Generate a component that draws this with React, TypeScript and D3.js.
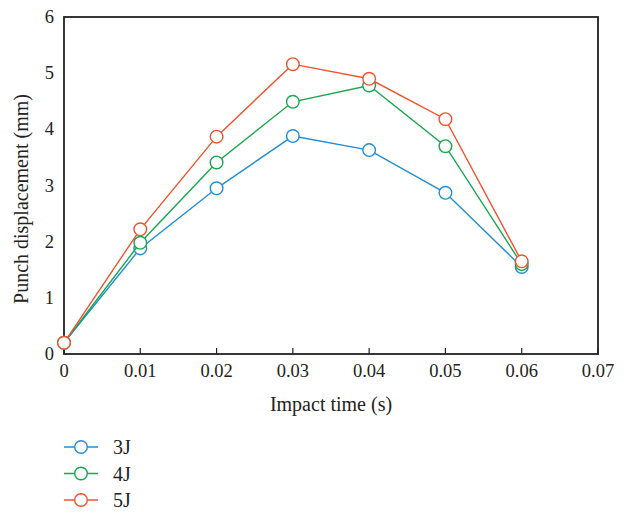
import React from "react";
import * as d3 from "d3";

const times = [0, 0.01, 0.02, 0.03, 0.04, 0.05, 0.06];
const s3J = [0.2, 1.88, 2.95, 3.88, 3.63, 2.87, 1.55];
const s4J = [0.2, 1.98, 3.41, 4.49, 4.78, 3.70, 1.60];
const s5J = [0.2, 2.22, 3.87, 5.16, 4.90, 4.18, 1.65];
const seriesNames = ["3J", "4J", "5J"];
const xTicks = [0, 0.01, 0.02, 0.03, 0.04, 0.05, 0.06, 0.07];
const yTicks = [0, 1, 2, 3, 4, 5, 6];

const colors = ["#1f8fd6", "#17a74f", "#f2532f"];
const font = "'Liberation Serif', 'DejaVu Serif', serif";

export default function App() {
  const W = 631, H = 513;
  const left = 64, right = 598, top = 17, bottom = 354;
  const x = d3.scaleLinear().domain([0, 0.07]).range([left, right]);
  const y = d3.scaleLinear().domain([0, 6]).range([bottom, top]);
  const series = [s3J, s4J, s5J];
  const line = d3.line<number>().x((_, i) => x(times[i])).y((d) => y(d));

  return (
    <svg width={W} height={H} style={{ position: "absolute", left: 0, top: 0, background: "#fff" }}>
      <rect x={left} y={top} width={right - left} height={bottom - top} fill="none" stroke="#222" strokeWidth={1.8} />
      {xTicks.map((t) => (
        <g key={"x" + t}>
          <line x1={x(t)} x2={x(t)} y1={bottom} y2={bottom - 6} stroke="#222" strokeWidth={1.2} />
          <text x={x(t)} y={bottom + 23} textAnchor="middle" fontFamily={font} fontSize={18.5} fill="#222">
            {t === 0 ? "0" : t.toFixed(2)}
          </text>
        </g>
      ))}
      {yTicks.map((t) => (
        <text key={"y" + t} x={left - 10} y={y(t) + 6} textAnchor="end" fontFamily={font} fontSize={18.5} fill="#222">
          {t}
        </text>
      ))}
      <text x={331} y={411} textAnchor="middle" fontFamily={font} fontSize={20} fill="#222">
        Impact time (s)
      </text>
      <text
        transform={`translate(28, 199) rotate(-90)`}
        textAnchor="middle"
        fontFamily={font}
        fontSize={20}
        fill="#222"
      >
        Punch displacement (mm)
      </text>
      {series.map((s, k) => (
        <g key={"s" + k}>
          <path d={line(s) || ""} fill="none" stroke={colors[k]} strokeWidth={1.4} />
          {s.map((v, i) => (
            <circle key={i} cx={x(times[i])} cy={y(v)} r={6.3} fill="#fff" stroke={colors[k]} strokeWidth={1.4} />
          ))}
        </g>
      ))}
      {seriesNames.map((n, k) => {
        const ly = 447 + k * 26.5;
        return (
          <g key={"l" + n}>
            <line x1={64} x2={98} y1={ly} y2={ly} stroke={colors[k]} strokeWidth={1.4} />
            <circle cx={81} cy={ly} r={6.3} fill="#fff" stroke={colors[k]} strokeWidth={1.4} />
            <text x={113} y={ly + 7} fontFamily={font} fontSize={20} fill="#222">
              {n}
            </text>
          </g>
        );
      })}
    </svg>
  );
}
